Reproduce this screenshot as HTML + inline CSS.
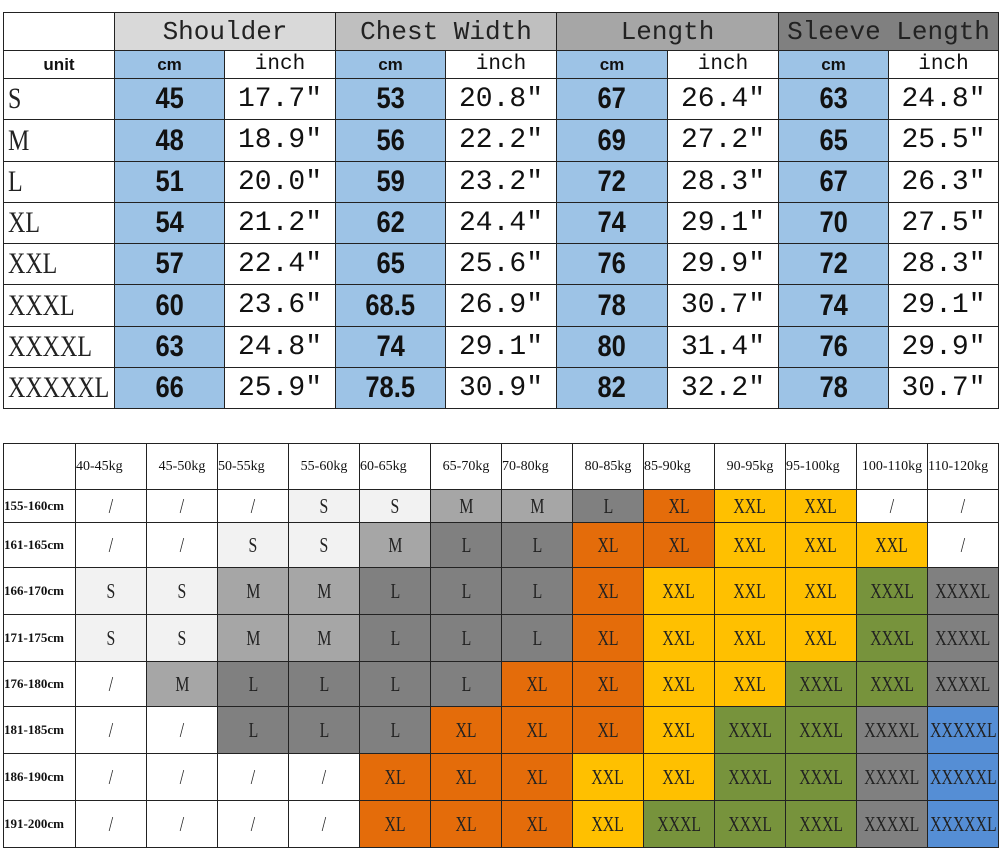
<!DOCTYPE html>
<html><head><meta charset="utf-8"><style>
body{margin:0;width:1000px;height:856px;background:#fff;position:relative;overflow:hidden}
.c{position:absolute;box-sizing:border-box;border:1px solid #222;display:flex;align-items:center;justify-content:center;white-space:nowrap;color:#111;overflow:hidden}
</style></head><body>
<div id="r"></div>
<script>
(function(){
var R=document.getElementById('r');
function cell(x,y,w,h,t,bg,st){var d=document.createElement('div');d.className='c';d.style.cssText='left:'+x+'px;top:'+y+'px;width:'+(w+1)+'px;height:'+(h+1)+'px;background:'+(bg||'#fff')+';'+(st||'');d.textContent=t;R.appendChild(d);return d;}
function span(d,t,st){var s=document.createElement('span');s.textContent=t;s.style.cssText='display:inline-block;'+st;d.appendChild(s);return s;}
var tx=[3,114,224,335,445,556,667,778,888,998];
var heads=[['Shoulder','#d9d9d9'],['Chest Width','#bfbfbf'],['Length','#a6a6a6'],['Sleeve Length','#808080']];
var mono='font-family:"Liberation Mono",monospace;';
cell(3,12,111,38,'');
heads.forEach(function(h,i){cell(tx[1+2*i],12,tx[3+2*i]-tx[1+2*i],38,h[0],h[1],mono+'font-size:26px;color:#222;');});
cell(3,50,111,28,'unit','#fff','font-family:"Liberation Sans",sans-serif;font-weight:bold;font-size:17px;');
for(var i=0;i<4;i++){cell(tx[1+2*i],50,tx[2+2*i]-tx[1+2*i],28,'cm','#9dc3e6','font-family:"Liberation Sans",sans-serif;font-weight:bold;font-size:17px;');
cell(tx[2+2*i],50,tx[3+2*i]-tx[2+2*i],28,'inch','#fff',mono+'font-size:21px;');}
var topData=[['S',45,'17.7',53,'20.8',67,'26.4',63,'24.8'],['M',48,'18.9',56,'22.2',69,'27.2',65,'25.5'],['L',51,'20.0',59,'23.2',72,'28.3',67,'26.3'],['XL',54,'21.2',62,'24.4',74,'29.1',70,'27.5'],['XXL',57,'22.4',65,'25.6',76,'29.9',72,'28.3'],['XXXL',60,'23.6','68.5','26.9',78,'30.7',74,'29.1'],['XXXXL',63,'24.8',74,'29.1',80,'31.4',76,'29.9'],['XXXXXL',66,'25.9','78.5','30.9',82,'32.2',78,'30.7']];
topData.forEach(function(r,j){var y=Math.round(78+j*41.25),h=Math.round(78+(j+1)*41.25)-y;
var d=cell(3,y,111,h,'','#fff','justify-content:flex-start;padding-left:4px;');
span(d,r[0],'font-family:"Liberation Serif",serif;font-size:30px;transform:scaleX(0.8);transform-origin:left center;color:#222');
for(var i=0;i<4;i++){var c=cell(tx[1+2*i],y,tx[2+2*i]-tx[1+2*i],h,'','#9dc3e6');
span(c,String(r[1+2*i]),'font-family:"Liberation Sans",sans-serif;font-weight:bold;font-size:30px;transform:scaleX(0.85);');
cell(tx[2+2*i],y,tx[3+2*i]-tx[2+2*i],h,r[2+2*i]+'"','#fff',mono+'font-size:28px;');}});
var bx=[3,75];for(var k=1;k<=13;k++)bx.push(75+71*k);
var by=[443,489,522,567,614,661,706,753,800,847];
var kg=['40-45kg','45-50kg','50-55kg','55-60kg','60-65kg','65-70kg','70-80kg','80-85kg','85-90kg','90-95kg','95-100kg','100-110kg','110-120kg'];
var ser='font-family:"Liberation Serif",serif;';
cell(3,443,72,46,'');
kg.forEach(function(t,i){cell(bx[i+1],443,71,46,t,'#fff',ser+'font-size:14px;justify-content:'+(i%2?'center':'flex-start')+';');});
var hs=['155-160cm','161-165cm','166-170cm','171-175cm','176-180cm','181-185cm','186-190cm','191-200cm'];
var g=['/ / / S S M M L XL XXL XXL / /','/ / S S M L L XL XL XXL XXL XXL /','S S M M L L L XL XXL XXL XXL XXXL XXXXL','S S M M L L L XL XXL XXL XXL XXXL XXXXL','/ M L L L L XL XL XXL XXL XXXL XXXL XXXXL','/ / L L L XL XL XL XXL XXXL XXXL XXXXL XXXXXL','/ / / / XL XL XL XXL XXL XXXL XXXL XXXXL XXXXXL','/ / / / XL XL XL XXL XXXL XXXL XXXL XXXXL XXXXXL'];
var col={'/':'#fff','S':'#f2f2f2','M':'#a6a6a6','L':'#808080','XL':'#e46c0a','XXL':'#ffc000','XXXL':'#77933c','XXXXL':'#808080','XXXXXL':'#558ed5'};
hs.forEach(function(h,j){var y=by[j+1],hh=by[j+2]-y;
cell(3,y,72,hh,h,'#fff',ser+'font-size:13px;font-weight:bold;justify-content:flex-start;');
g[j].split(' ').forEach(function(s,i){var d=cell(bx[i+1],y,71,hh,'',col[s]);
span(d,s,ser+'font-size:21px;transform:scaleX(0.75);color:#222');});});
})();
</script>
</body></html>
